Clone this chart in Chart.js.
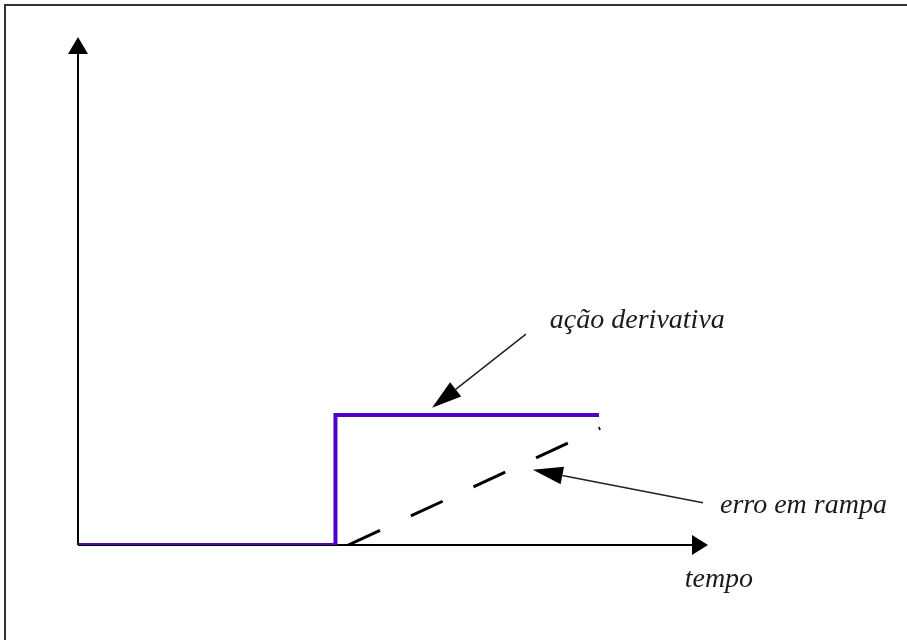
<!DOCTYPE html>
<html>
<head>
<meta charset="utf-8">
<script src="https://cdn.jsdelivr.net/npm/chart.js@4/dist/chart.umd.min.js"></script>
<style>
  html, body { margin: 0; padding: 0; background: #fff; }
  canvas { display: block; }
</style>
</head>
<body>
<canvas id="c" width="907" height="640"></canvas>
<script>
// ---- data ----
const tempoDegrau = [0, 4.087, 4.087, 8.27];
const acaoDerivativa = [0, 0, 2.56, 2.56];
const tempoRampa = [4.29, 8.29];
const erroRampa = [0, 2.30];
const rotulos = ["ação derivativa", "erro em rampa", "tempo"];

// annotation geometry (data coordinates)
const anotacoes = [
  { texto: rotulos[0], tx: 7.49, ty: 4.27, from: [7.11, 4.15], to: [5.62, 2.70] },
  { texto: rotulos[1], tx: 10.19, ty: 0.63, from: [9.92, 0.83], to: [7.22, 1.48] },
  { texto: rotulos[2], tx: 9.63, ty: -0.83 }
];

function arrowHead(ctx, x1, y1, x2, y2, len, half) {
  const a = Math.atan2(y2 - y1, x2 - x1);
  const bx = x2 - len * Math.cos(a), by = y2 - len * Math.sin(a);
  ctx.beginPath();
  ctx.moveTo(x2, y2);
  ctx.lineTo(bx + half * Math.sin(a), by - half * Math.cos(a));
  ctx.lineTo(bx - half * Math.sin(a), by + half * Math.cos(a));
  ctx.closePath();
  ctx.fill();
  return [bx, by];
}

const framePlugin = {
  id: 'frame',
  beforeDraw(chart) {
    const ctx = chart.ctx;
    ctx.save();
    ctx.fillStyle = '#fff';
    ctx.fillRect(0, 0, chart.width, chart.height);
    ctx.strokeStyle = '#333';
    ctx.lineWidth = 2;
    ctx.beginPath();
    ctx.moveTo(5, 640); ctx.lineTo(5, 5); ctx.lineTo(907, 5);
    ctx.stroke();
    // axes
    const xs = chart.scales.x, ys = chart.scales.y;
    const x0 = xs.getPixelForValue(0), y0 = ys.getPixelForValue(0);
    const xEnd = xs.getPixelForValue(10), yEnd = ys.getPixelForValue(10);
    ctx.strokeStyle = '#000';
    ctx.fillStyle = '#000';
    ctx.lineWidth = 2;
    ctx.beginPath();
    ctx.moveTo(x0, y0); ctx.lineTo(x0, yEnd + 15);
    ctx.moveTo(x0, y0); ctx.lineTo(xEnd - 15, y0);
    ctx.stroke();
    arrowHead(ctx, x0, y0, x0, yEnd, 17, 10);
    arrowHead(ctx, x0, y0, xEnd, y0, 16, 10);
    ctx.restore();
  },
  afterDatasetsDraw(chart) {
    const ctx = chart.ctx;
    const xs = chart.scales.x, ys = chart.scales.y;
    ctx.save();
    ctx.fillStyle = '#1a1a1a';
    ctx.strokeStyle = '#1a1a1a';
    ctx.font = 'italic 28px "Liberation Serif", "Times New Roman", serif';
    ctx.textBaseline = 'alphabetic';
    ctx.textAlign = 'left';
    anotacoes.forEach(a => {
      ctx.fillText(a.texto, xs.getPixelForValue(a.tx), ys.getPixelForValue(a.ty));
      if (a.from) {
        const fx = xs.getPixelForValue(a.from[0]), fy = ys.getPixelForValue(a.from[1]);
        const tx = xs.getPixelForValue(a.to[0]), ty = ys.getPixelForValue(a.to[1]);
        ctx.fillStyle = '#000';
        const b = arrowHead(ctx, fx, fy, tx, ty, 30, 9);
        ctx.lineWidth = 1.5;
        ctx.strokeStyle = '#222';
        ctx.beginPath();
        ctx.moveTo(fx, fy); ctx.lineTo(b[0], b[1]);
        ctx.stroke();
        ctx.fillStyle = '#1a1a1a';
      }
    });
    ctx.restore();
  }
};

new Chart(document.getElementById('c'), {
  type: 'line',
  data: {
    datasets: [
      {
        label: 'ação derivativa',
        data: tempoDegrau.map((t, i) => ({ x: t, y: acaoDerivativa[i] })),
        borderColor: '#5000c8',
        borderWidth: 4,
        pointRadius: 0,
        tension: 0,
        borderJoinStyle: 'miter',
        fill: false
      },
      {
        label: 'erro em rampa',
        data: tempoRampa.map((t, i) => ({ x: t, y: erroRampa[i] })),
        borderColor: '#000',
        borderWidth: 3,
        borderDash: [35, 34],
        pointRadius: 0,
        tension: 0,
        fill: false
      }
    ]
  },
  options: {
    responsive: false,
    animation: false,
    events: [],
    layout: { padding: { left: 78, right: 199, top: 37, bottom: 95 } },
    plugins: { legend: { display: false }, tooltip: { enabled: false } },
    scales: {
      x: { type: 'linear', min: 0, max: 10, display: false },
      y: { type: 'linear', min: 0, max: 10, display: false }
    }
  },
  plugins: [framePlugin]
});
</script>
</body>
</html>
